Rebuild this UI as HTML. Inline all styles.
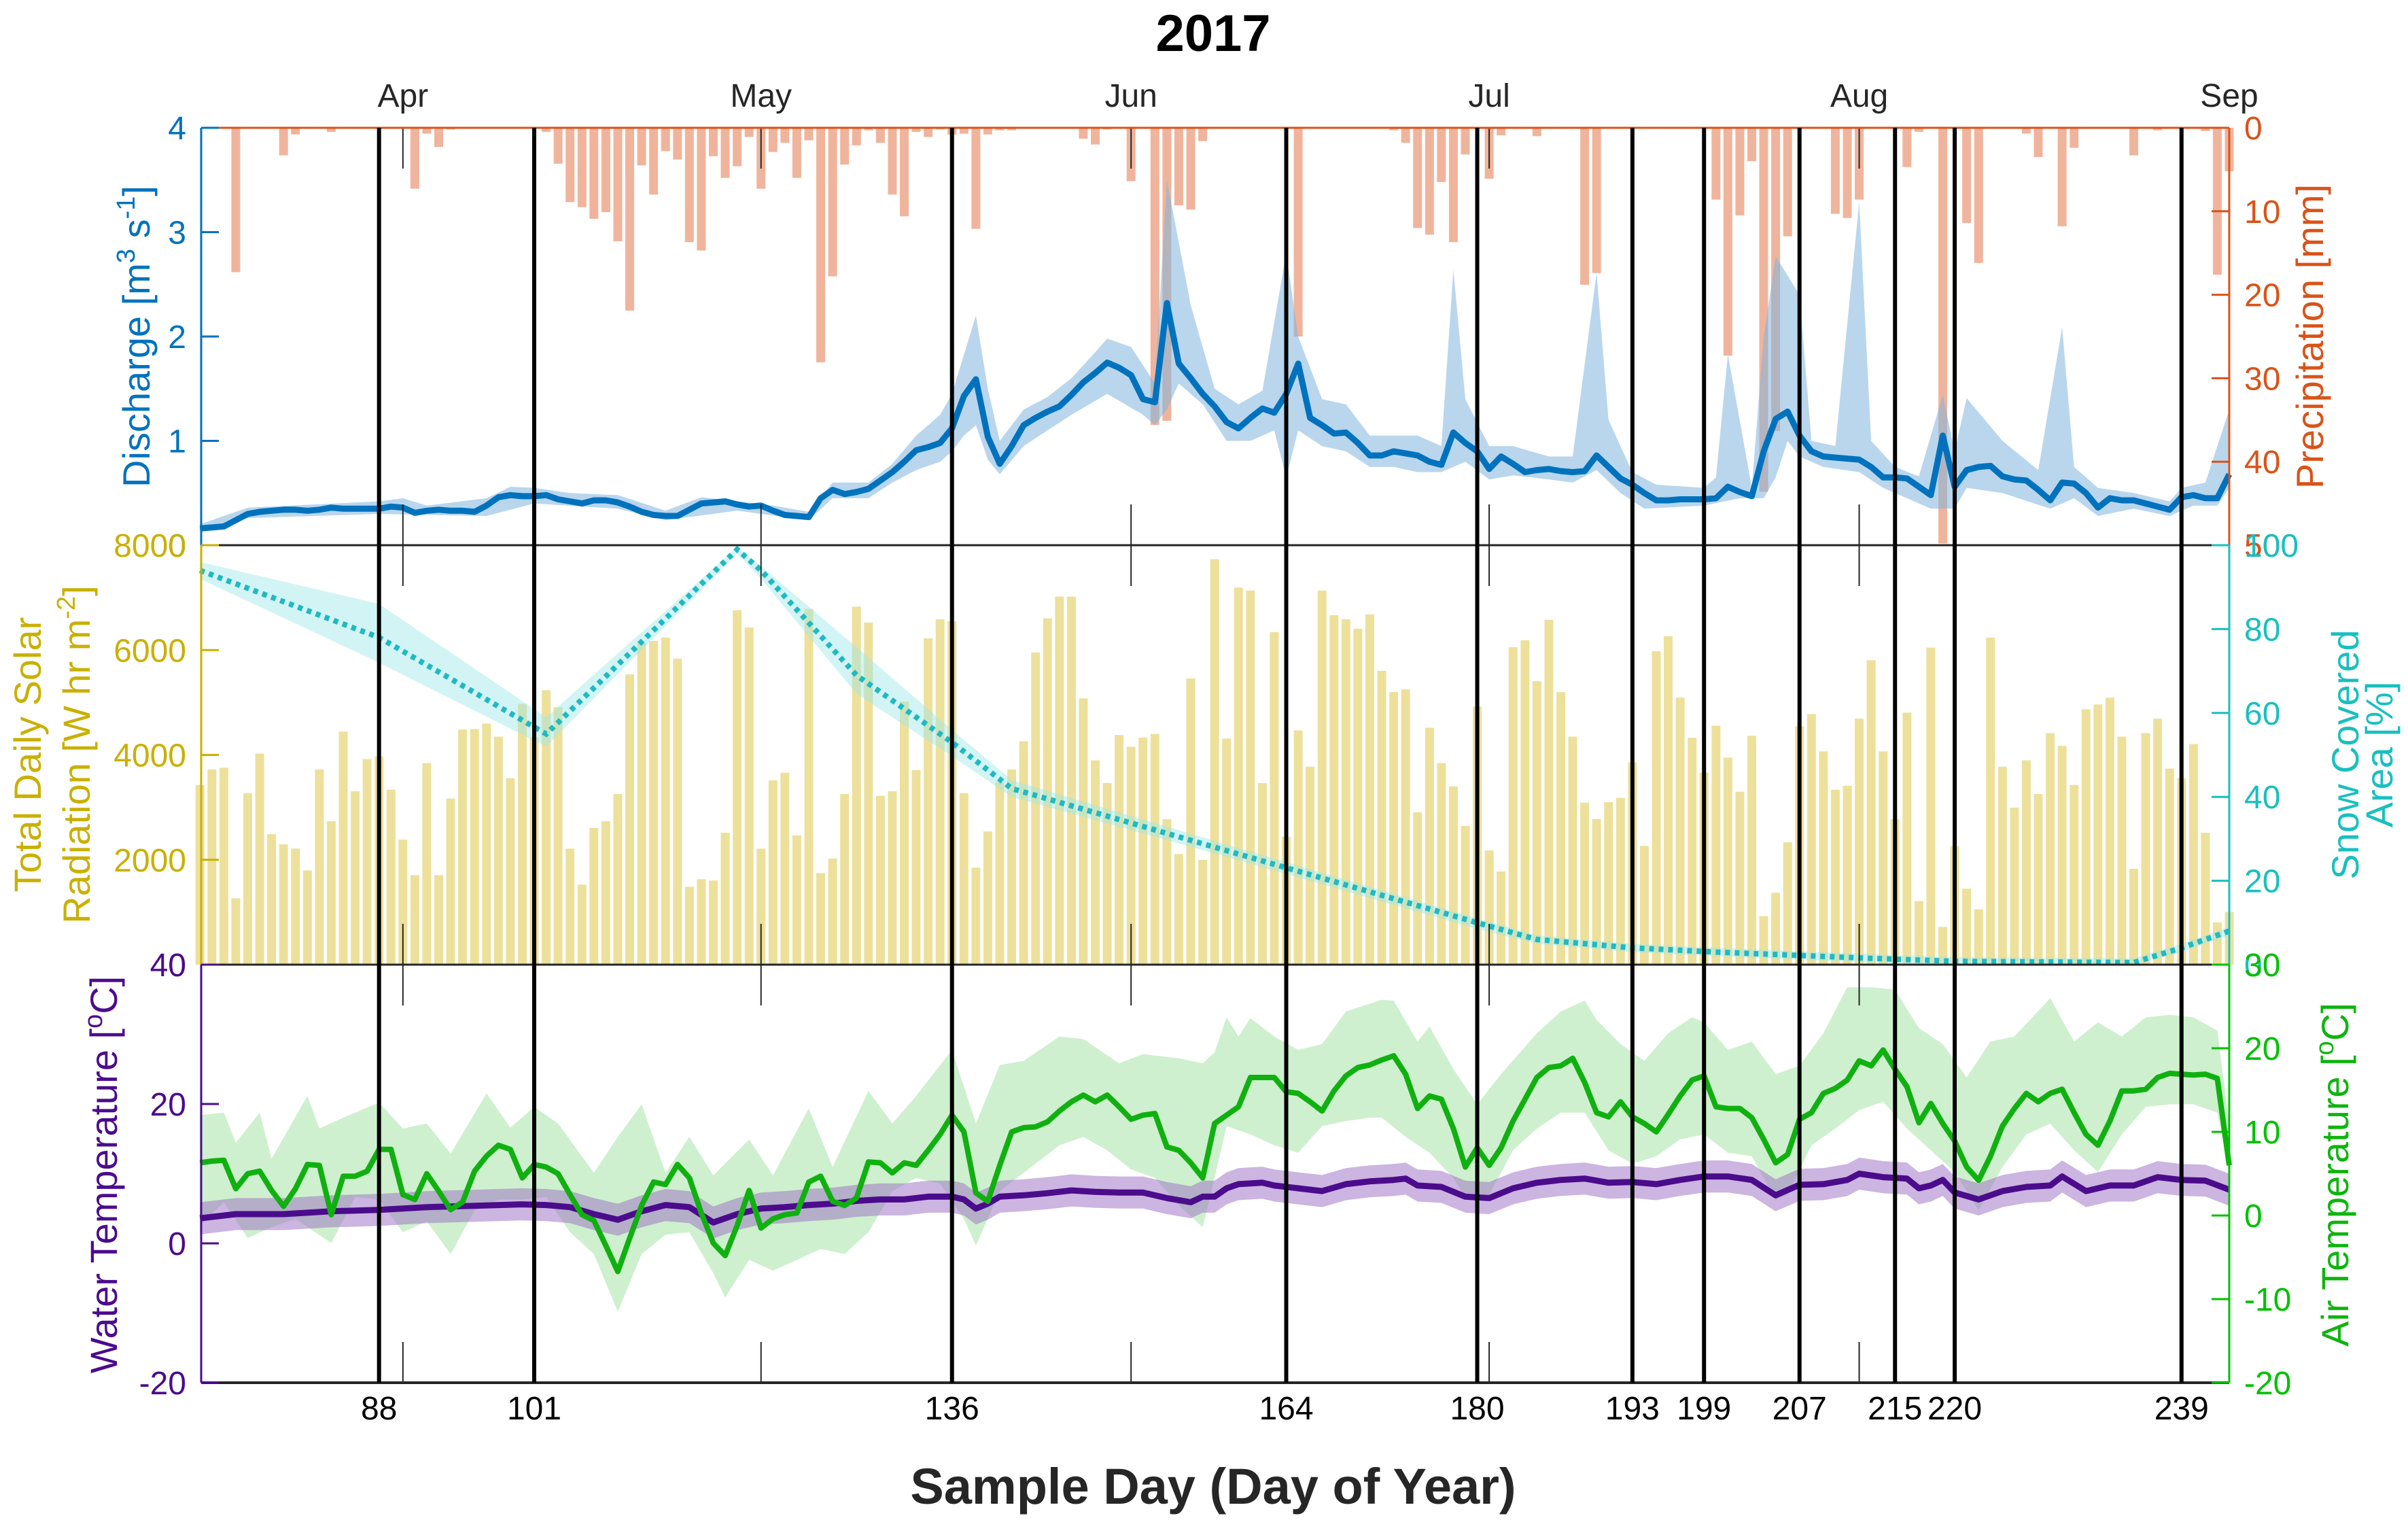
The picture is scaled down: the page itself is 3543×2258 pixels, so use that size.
<!DOCTYPE html>
<html><head><meta charset="utf-8"><style>
html,body{margin:0;padding:0;background:#fff;}
svg{display:block;font-family:"Liberation Sans",Arial,sans-serif;}
</style></head><body>
<svg id="chart" width="3543" height="2258" viewBox="0 0 3543 2258" xmlns="http://www.w3.org/2000/svg">
<rect x="0" y="0" width="3543" height="2258" fill="#fff"/>
<g id="layer-p2"></g>
<g id="layer-p1"></g>
<g id="layer-p3"></g>
<g id="layer-axes"></g>
<text x="1785" y="75" font-size="76" font-weight="bold" text-anchor="middle" fill="#000">2017</text>
<text x="1785" y="2212" font-size="74" font-weight="bold" text-anchor="middle" fill="#262626">Sample Day (Day of Year)</text>
<text transform="translate(220,495) rotate(-90)" font-size="56" text-anchor="middle" fill="#0072BD">Discharge [m<tspan dy="-22" font-size="38">3</tspan><tspan dy="22"> s</tspan><tspan dy="-22" font-size="38">-1</tspan><tspan dy="22">]</tspan></text>
<text transform="translate(3418,495) rotate(-90)" font-size="56" text-anchor="middle" fill="#D95319">Precipitation [mm]</text>
<text transform="translate(60,1110) rotate(-90)" font-size="56" text-anchor="middle" fill="#C9B000">Total Daily Solar</text>
<text transform="translate(132,1110) rotate(-90)" font-size="56" text-anchor="middle" fill="#C9B000">Radiation [W hr m<tspan dy="-22" font-size="38">-2</tspan><tspan dy="22">]</tspan></text>
<text transform="translate(3470,1110) rotate(-90)" font-size="56" text-anchor="middle" fill="#1ABFBF">Snow Covered</text>
<text transform="translate(3520,1110) rotate(-90)" font-size="56" text-anchor="middle" fill="#1ABFBF">Area [%]</text>
<text transform="translate(172,1728) rotate(-90)" font-size="56" text-anchor="middle" fill="#4B0C8C">Water Temperature [<tspan dy="-22" font-size="38">o</tspan><tspan dy="22">C]</tspan></text>
<text transform="translate(3455,1728) rotate(-90)" font-size="56" text-anchor="middle" fill="#0FB40F">Air Temperature [<tspan dy="-22" font-size="38">o</tspan><tspan dy="22">C]</tspan></text>
</svg>
<script>
// ---------- data ----------
const dayStart = 73;
const dischargeVals = [0.16,0.17,0.18,0.24,0.30,0.32,0.33,0.34,0.34,0.33,0.34,0.36,0.35,0.35,0.35,0.35,0.37,0.36,0.31,0.33,0.34,0.33,0.33,0.32,0.38,0.46,0.48,0.47,0.47,0.48,0.44,0.42,0.40,0.43,0.43,0.41,0.37,0.32,0.29,0.28,0.28,0.34,0.40,0.41,0.42,0.39,0.37,0.38,0.33,0.29,0.28,0.27,0.45,0.53,0.49,0.51,0.54,0.62,0.70,0.80,0.91,0.94,0.98,1.12,1.43,1.59,1.04,0.78,0.95,1.15,1.22,1.28,1.33,1.44,1.56,1.65,1.75,1.70,1.63,1.40,1.37,2.32,1.74,1.60,1.45,1.33,1.18,1.12,1.22,1.31,1.27,1.45,1.74,1.22,1.15,1.07,1.08,0.98,0.86,0.86,0.90,0.88,0.86,0.80,0.77,1.08,0.98,0.90,0.73,0.85,0.78,0.70,0.72,0.73,0.71,0.70,0.71,0.86,0.75,0.64,0.58,0.50,0.43,0.43,0.44,0.44,0.44,0.45,0.56,0.51,0.47,0.90,1.21,1.28,1.05,0.90,0.85,0.84,0.83,0.82,0.75,0.65,0.65,0.64,0.56,0.48,1.05,0.56,0.72,0.75,0.76,0.66,0.63,0.62,0.53,0.43,0.60,0.59,0.50,0.36,0.45,0.43,0.43,0.40,0.37,0.34,0.46,0.48,0.45,0.45,0.68];
const qUpDays = [73,77,88,90,92,97,99,101,104,108,112,115,118,121,124,126,129,131,133,135,136,138,139,140,142,144,146,148,149,151,153,154,156,158,160,162,164,165,167,169,171,173,175,177,178,179,181,183,186,188,190,191,193,195,199,200,201,203,204,205,207,208,210,212,213,215,217,219,220,221,224,227,229,230,232,235,238,239,241,243];
const qUpVals = [0.2,0.36,0.42,0.45,0.38,0.45,0.56,0.55,0.5,0.48,0.33,0.46,0.42,0.38,0.32,0.6,0.6,0.78,1.05,1.25,1.45,2.2,1.5,1.0,1.3,1.42,1.6,1.85,1.98,1.9,1.55,3.5,2.3,1.5,1.35,1.48,2.8,2.0,1.4,1.35,1.05,1.05,1.05,0.95,2.64,1.4,0.95,0.95,0.85,0.85,2.61,1.2,0.7,0.58,0.55,0.65,1.83,0.55,2.0,2.77,2.4,1.0,0.95,3.29,1.0,0.75,0.66,1.44,0.9,1.41,1.0,0.72,2.09,0.75,0.55,0.5,0.42,0.55,0.6,1.3];
const qLoDays = [73,77,88,97,101,108,112,118,124,126,129,131,133,135,136,137,138,139,140,142,144,146,149,152,153,154,155,157,159,161,163,164,165,167,169,171,173,175,177,179,181,183,186,188,190,192,194,199,202,204,205,206,207,209,212,214,218,219,220,221,224,228,230,232,235,238,240,242,243];
const qLoVals = [0.14,0.26,0.3,0.28,0.4,0.35,0.24,0.33,0.24,0.45,0.45,0.6,0.72,0.8,0.9,1.05,1.15,0.82,0.68,0.95,1.1,1.25,1.45,1.25,1.15,1.3,1.55,1.35,1.0,1.0,1.1,0.65,1.1,0.95,0.9,0.75,0.75,0.7,0.7,0.8,0.63,0.67,0.63,0.6,0.72,0.5,0.35,0.38,0.45,0.45,0.65,1.0,0.85,0.75,0.7,0.55,0.35,0.35,0.35,0.55,0.5,0.35,0.45,0.28,0.35,0.28,0.38,0.38,0.55];
const precipDays = [76,80,81,84,91,92,93,94,102,103,104,105,106,107,108,109,110,111,112,113,114,115,116,117,118,119,120,121,122,123,124,125,126,127,128,129,130,131,132,133,134,135,136,137,138,139,140,141,147,148,149,151,153,154,155,156,157,165,173,174,175,176,177,178,179,181,182,185,189,190,194,200,201,202,203,204,205,206,210,211,212,216,217,219,221,222,223,226,227,229,230,235,237,241,242,243];
const precipMm = [17.3,3.3,0.8,0.5,7.3,0.7,2.3,0.2,0.5,4.3,8.9,9.5,10.9,10.1,13.6,21.9,4.5,8.0,2.8,3.8,13.7,14.7,3.4,6.0,4.6,1.1,7.3,2.9,1.8,6.0,1.5,28.1,17.8,4.4,2.1,0.3,1.8,8.0,10.6,0.5,1.1,0.2,0.8,0.7,12.1,0.8,0.3,0.3,1.3,2.0,0.2,6.4,35.6,35.1,9.3,9.8,1.6,25.0,0.3,1.8,12.0,12.8,6.5,13.7,3.2,6.1,0.9,1.0,18.8,17.4,0.1,8.6,27.3,10.5,4.0,43.6,36.3,13.0,10.3,10.8,8.6,4.7,0.5,49.8,11.4,16.2,0.1,0.7,3.5,11.8,2.4,3.3,0.3,0.4,17.6,5.2];
const solarVals = [3427,3724,3755,1266,3271,4026,2490,2297,2213,1797,3724,2734,4443,3307,3922,3974,3338,2385,1708,3844,1708,3167,4484,4494,4599,4349,3557,4974,4338,5234,4911,2213,1526,2609,2734,3255,5536,6135,6172,6239,5838,1484,1630,1604,2515,6760,6432,2213,3516,3661,2463,6786,1745,2021,3255,6828,6526,3219,3307,5015,3713,6224,6588,6552,3271,1849,2541,3479,3724,4260,5953,6604,7020,7020,5078,3896,3463,4380,4156,4328,4401,2776,2109,5458,2000,7734,4312,7192,7135,3463,6343,2437,4468,3776,7135,6666,6588,6406,6682,5604,5198,5250,2906,4520,3844,3401,2646,4922,2177,1776,6057,6187,5406,6578,5198,4349,3088,2776,3099,3182,3859,2265,5979,6265,5093,4328,3661,4557,3948,3297,4364,927,1370,2333,4547,4781,4067,3338,3411,4692,5807,4067,2776,4807,1213,6047,719,2265,1448,1057,6239,3776,2995,3896,3255,4416,4172,3427,4869,4963,5093,4349,1828,4416,4692,3739,3557,4208,2515,807,1005];
const snowDays = [73,88,102,118,120,128,136,141,158,180,185,193,200,213,220,235,239,243];
const snowVals = [94,78,55,99,94,69,53,42,28,10,6,4,3,1.5,0.8,0.5,4,8];
const snowHi = [96,86,59,99.5,95,75.7,56,44,29.5,11,7,5,4,2.5,1.8,1.5,5,9];
const snowLo = [92,72,52,98,92,64.6,49.7,40,26.5,8.5,5,3,2,0.5,0,0,3,7];
const airVals = [6.3,6.5,6.6,3.2,5.0,5.3,3.0,1.1,3.2,6.1,6.0,0.1,4.7,4.7,5.3,7.9,7.9,2.5,1.9,5.0,2.9,0.7,1.6,5.3,7.1,8.4,7.9,4.5,6.1,5.8,5.0,2.5,0.1,-0.6,-3.6,-6.7,-2.7,1.2,4.0,3.7,6.1,4.5,0.3,-3.3,-4.8,-1.2,3.0,-1.5,-0.4,0.1,0.3,4.0,4.7,1.7,1.2,2.1,6.4,6.3,5.1,6.3,6.0,7.8,9.7,12.0,10.0,2.7,1.7,6.0,10.0,10.5,10.6,11.2,12.5,13.6,14.4,13.6,14.4,13.0,11.5,12.0,12.2,8.2,7.8,6.3,4.5,11.0,12.0,13.0,16.5,16.5,16.5,14.8,14.6,13.6,12.5,14.9,16.7,17.7,18.0,18.6,19.1,16.9,12.8,14.3,13.9,10.4,5.8,8.1,6.0,8.1,11.3,13.9,16.5,17.7,17.9,18.8,15.9,12.3,11.8,13.6,11.8,11.0,10.0,12.1,14.3,16.2,16.7,13.0,12.8,12.8,11.7,9.1,6.3,7.3,11.5,12.3,14.6,15.2,16.2,18.5,17.9,19.8,17.5,15.4,11.1,13.4,11.0,8.9,5.8,4.2,7.1,10.7,12.8,14.6,13.6,14.6,15.1,12.3,9.7,8.4,11.3,14.9,14.9,15.1,16.5,17.0,16.9,16.8,16.9,16.4,6.0];
const airHiDays = [73,75,76,78,79,82,83,85,88,90,92,94,97,99,101,103,106,108,110,112,114,116,119,121,124,126,129,131,133,136,138,140,142,145,147,150,152,155,157,158,159,160,161,163,165,167,169,172,173,175,176,178,180,182,185,187,189,190,192,194,196,198,199,201,203,205,207,209,211,213,215,217,219,221,223,225,228,230,232,234,236,238,240,242,243];
const airHiVals = [12,12.3,8.7,12.3,6.8,14.3,10.4,11.7,13.5,10.4,11,7.4,14.6,10.5,13,11,5.1,9.4,13.3,5.1,9.4,4.8,9.1,4.8,12.8,5.8,14.9,11,14.3,19.8,11,18,18.5,21.4,21.1,18.2,19.3,18.8,18.2,19.5,23.7,21.4,23.6,21.4,19.8,20.5,24.4,25.8,25.7,20.8,22.6,17.5,13.3,16.9,21.8,24.4,25.7,23.4,20.5,18.5,21.8,23.7,23.1,19.8,20.8,16.9,17.9,21.8,27.3,27.3,27,22.4,20.5,16.5,20.8,21.4,26,20.8,23.1,21.4,23.7,24,23.7,22.1,11];
const airLoDays = [73,75,77,79,81,84,86,88,90,92,94,96,98,100,102,104,106,108,110,112,114,116,117,119,121,123,125,127,129,131,133,135,137,138,140,142,145,147,149,151,153,155,157,158,159,161,163,165,167,169,171,172,174,176,178,179,181,183,185,187,189,191,193,195,197,199,201,203,205,206,208,210,212,214,216,218,220,222,224,226,228,230,232,234,236,238,240,242,243];
const airLoVals = [-1.2,1.6,-2.7,-1.4,-0.4,-3.3,2.2,1.9,-2,-0.7,-4.6,0.6,1.9,1.9,2.2,-2,-4.6,-11.5,-4.6,-2.3,-2,-6.9,-9.8,-5.3,-6.6,-5.3,-4,-4.6,-2,2.9,4.5,3.8,-0.4,-3.6,2.9,5.1,8.4,9.4,7.8,5.5,4.5,1.2,-1.4,4.5,10.7,9.7,8.4,7.5,10.7,11.3,11.7,11.7,9.4,7.5,4.5,2.2,2.5,7.8,10.4,12.3,12.3,7.8,6.2,7.1,9.1,9.7,7.5,7.1,1.9,2.5,8.4,10.4,12.6,13.6,10.4,7.8,5.2,0.6,5.8,9.7,11,7.8,5.2,9.7,13,13.3,13.3,12.3,5.2];
const waterDays = [73,76,80,84,88,92,96,100,102,104,106,108,110,112,114,116,118,120,122,124,126,128,130,132,134,136,137,138,139,140,142,144,146,148,150,152,154,156,157,158,159,160,162,163,165,167,169,171,173,174,175,177,179,181,183,185,187,189,191,193,195,197,199,201,203,205,207,209,211,212,214,216,217,218,219,220,222,224,226,228,229,231,233,235,237,239,241,243];
const waterVals = [3.6,4.2,4.2,4.6,4.8,5.2,5.4,5.6,5.5,5.2,4.2,3.4,4.6,5.5,5.2,3.0,4.2,5.0,5.2,5.5,5.7,6.1,6.3,6.3,6.7,6.7,6.3,5.0,5.7,6.7,6.9,7.2,7.6,7.4,7.3,7.3,6.5,5.9,6.7,6.7,7.9,8.5,8.7,8.3,7.9,7.5,8.5,8.9,9.1,9.3,8.3,8.1,6.7,6.5,7.9,8.7,9.1,9.3,8.7,8.8,8.5,9.1,9.6,9.6,9.1,6.9,8.4,8.5,9.1,10.0,9.5,9.3,7.9,8.3,9.1,7.3,6.3,7.5,8.1,8.3,9.6,7.5,8.3,8.3,9.5,9.1,9.0,7.7];
const waterSpread = [2.3];
const sampleDays = [88,101,136,164,180,193,199,207,215,220,239];
const monthDays = [90,120,151,181,212,243];
const monthLabels = ["Apr","May","Jun","Jul","Aug","Sep"];
const dischargeTicks = [0,1,2,3,4];
const precipTicks = [0,10,20,30,40,50];
const solarTicks = [0,2000,4000,6000,8000];
const snowTicks = [0,20,40,60,80,100];
const waterTicks = [-20,0,20,40];
const airTicks = [-20,-10,0,10,20,30];

// ---------- scales ----------
const X0=296, X1=3280, D0=73.1, D1=243.0;
const P1T=188, P1B=802, P2T=802, P2B=1419, P3T=1419, P3B=2034;
function xs(d){ return X0 + (d-D0)/(D1-D0)*(X1-X0); }
function yQ(v){ return P1B - v/4*(P1B-P1T); }
function yP(v){ return P1T + v/50*(P1B-P1T); }
function yS(v){ return P2B - v/8000*(P2B-P2T); }
function ySn(v){ return P2B - v/100*(P2B-P2T); }
function yW(v){ return P3B - (v+20)/60*(P3B-P3T); }
function yA(v){ return P3B - (v+20)/50*(P3B-P3T); }

const NS='http://www.w3.org/2000/svg';
function mk(parent, tag, attrs){
  const e=document.createElementNS(NS,tag);
  for(const k in attrs) e.setAttribute(k,attrs[k]);
  parent.appendChild(e);
  return e;
}
function ptsFromDaily(vals, yf){ return vals.map((v,i)=>xs(dayStart+i).toFixed(1)+','+yf(v).toFixed(1)); }
function ptsFromPairs(days, vals, yf){ return days.map((d,i)=>xs(d).toFixed(1)+','+yf(vals[i]).toFixed(1)); }

const L1=document.getElementById('layer-p1');
const L2=document.getElementById('layer-p2');
const L3=document.getElementById('layer-p3');
const LA=document.getElementById('layer-axes');
const BW=13;

// ---------- panel 2: solar + snow ----------
solarVals.forEach((v,i)=>{
  const d=dayStart+i;
  const r=mk(L2,'rect',{x:(xs(d)-BW/2).toFixed(1),y:yS(v).toFixed(1),width:BW,height:(P2B-yS(v)).toFixed(1),fill:'#EDE09B'});
  
  
});
{
  const up=ptsFromPairs(snowDays,snowHi,ySn);
  const lo=ptsFromPairs(snowDays,snowLo,ySn).reverse();
  const p=mk(L2,'polygon',{points:up.concat(lo).join(' '),fill:'#9BE6E8','fill-opacity':'0.45'});
  
  
  const l=mk(L2,'polyline',{points:ptsFromPairs(snowDays,snowVals,ySn).join(' '),fill:'none',stroke:'#1FB9C2','stroke-width':8,'stroke-dasharray':'7 7'});
  
  
}

// ---------- panel 1: precip + discharge ----------
precipDays.forEach((d,i)=>{
  const r=mk(L1,'rect',{x:(xs(d)-BW/2).toFixed(1),y:P1T,width:BW,height:(yP(precipMm[i])-P1T).toFixed(1),fill:'#F0B49C'});
  
  
});
{
  const up=ptsFromPairs(qUpDays,qUpVals,yQ);
  const lo=ptsFromPairs(qLoDays,qLoVals,yQ).reverse();
  const p=mk(L1,'polygon',{points:up.concat(lo).join(' '),fill:'#7FB5DE','fill-opacity':'0.55'});
  
  
  const l=mk(L1,'polyline',{points:ptsFromDaily(dischargeVals,yQ).join(' '),fill:'none',stroke:'#0072BD','stroke-width':9,'stroke-linejoin':'round'});
  
  
}

// ---------- panel 3: temperatures ----------
{
  const up=ptsFromPairs(airHiDays,airHiVals,yA);
  const lo=ptsFromPairs(airLoDays,airLoVals,yA).reverse();
  const p=mk(L3,'polygon',{points:up.concat(lo).join(' '),fill:'#9EE19E','fill-opacity':'0.5'});
  
  
  const wu=ptsFromPairs(waterDays,waterVals.map(v=>v+waterSpread[0]),yW);
  const wl=ptsFromPairs(waterDays,waterVals.map(v=>v-waterSpread[0]),yW).reverse();
  const wp=mk(L3,'polygon',{points:wu.concat(wl).join(' '),fill:'#9A6CC4','fill-opacity':'0.5'});
  
  
  const wline=mk(L3,'polyline',{points:ptsFromPairs(waterDays,waterVals,yW).join(' '),fill:'none',stroke:'#4B0C8C','stroke-width':9,'stroke-linejoin':'round'});
  
  
  const aline=mk(L3,'polyline',{points:ptsFromDaily(airVals,yA).join(' '),fill:'none',stroke:'#10B010','stroke-width':8,'stroke-linejoin':'round'});
  
  
}

// ---------- axes ----------
function line(x1,y1,x2,y2,c,w){ return mk(LA,'line',{x1:x1,y1:y1,x2:x2,y2:y2,stroke:c,'stroke-width':w}); }
function txt(x,y,s,c,anchor){ const t=mk(LA,'text',{x:x,y:y,'font-size':48,fill:c,'text-anchor':anchor}); t.textContent=s; return t; }

// month minor ticks
monthDays.forEach((d,i)=>{
  [[P1T,P1T+60],[P1B-60,P1B],[P2T,P2T+60],[P2B-60,P2B],[P3T,P3T+60],[P3B-60,P3B]].forEach(seg=>{
    const t=line(xs(d),seg[0],xs(d),seg[1],'#262626',2);
    
    
  });
  const lb=txt(xs(d),157,monthLabels[i],'#262626','middle');
  
  
});

// frame lines
const f1=line(X0,P1T,X1,P1T,'#D95319',3);


const f2=line(X0,P2T,X1,P2T,'#262626',3);


const f3=line(X0,P3T,X1,P3T,'#262626',3);


const f4=line(X0,P3B,X1,P3B,'#262626',4);



// y axes
const axisDefs = [
  {ticks:dischargeTicks, f:yQ, x:X0, side:-1, c:'#0072BD', top:P1T, bot:P1B, name:'discharge'},
  {ticks:precipTicks, f:yP, x:X1, side:1, c:'#D95319', top:P1T, bot:P1B, name:'precip'},
  {ticks:solarTicks, f:yS, x:X0, side:-1, c:'#C9B000', top:P2T, bot:P2B, name:'solar'},
  {ticks:snowTicks, f:ySn, x:X1, side:1, c:'#1ABFBF', top:P2T, bot:P2B, name:'snow'},
  {ticks:waterTicks, f:yW, x:X0, side:-1, c:'#4B0C8C', top:P3T, bot:P3B, name:'water-temp'},
  {ticks:airTicks, f:yA, x:X1, side:1, c:'#00C000', top:P3T, bot:P3B, name:'air-temp'}
];
axisDefs.forEach(a=>{
  const al=line(a.x,a.top,a.x,a.bot,a.c,3);
  
  
  a.ticks.forEach(v=>{
    const y=a.f(v);
    const tk=line(a.x,y,a.x-a.side*26,y,a.c,3);
    
    
    const lb=txt(a.x+a.side*22,y+17,String(v),a.c,a.side<0?'end':'start');
    
    
  });
});

// sample day lines + labels
sampleDays.forEach(d=>{
  const l=line(xs(d),P1T,xs(d),P3B,'#000',6);
  
  
  const lb=txt(xs(d),2088,String(d),'#000','middle');
  
  
});
</script>
</body></html>
